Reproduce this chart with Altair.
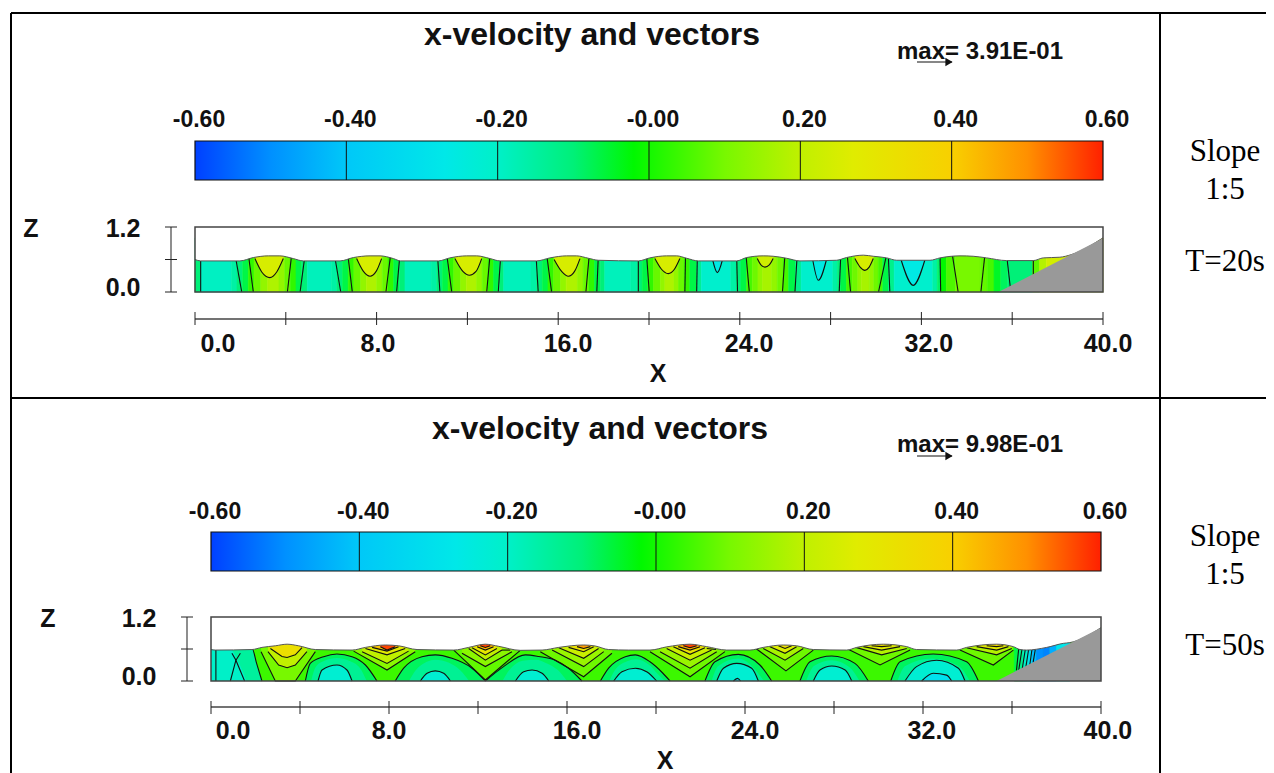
import altair as alt
import pandas as pd

# ---- colour map (velocity -> colour)
CB_VALUES = [-0.6, -0.5, -0.4, -0.27, -0.2, -0.1, -0.02, 0.1, 0.2, 0.27, 0.4, 0.5, 0.6]
CB_COLORS = ["#0040ff", "#0090ff", "#00c8f8", "#00e8e8", "#00f0c8", "#00f078", "#00f800",
             "#78f800", "#c0f000", "#e0ec00", "#f8d000", "#ff9000", "#ff2000"]
CB_TICKS = [-0.4, -0.2, 0.0, 0.2, 0.4]
CB_LABEL_VALUES = [-0.6, -0.4, -0.2, 0.0, 0.2, 0.4, 0.6]
CB_LABELS = ["-0.60", "-0.40", "-0.20", "-0.00", "0.20", "0.40", "0.60"]

X_TICKS = [0, 4, 8, 12, 16, 20, 24, 28, 32, 36, 40]
X_LABELS = ["0.0", "8.0", "16.0", "24.0", "32.0", "40.0"]
Z_TICKS = [0.0, 0.6, 1.2]
Z_LABELS = ["0.0", "1.2"]
P1_X_LABEL_POS = [1.01, 8.06, 16.43, 24.41, 32.33, 40.22]
P2_X_LABEL_POS = [0.99, 8.0, 16.45, 24.45, 32.4, 40.31]
Z_LABEL_POS = [0.07, 1.16]

# ---- panel 1 (T=20s): free surface
P1_SURF_X = [0, .25, 1.98, 2.57, 3.23, 3.74, 4.33, 4.77, 6.39, 6.98, 7.71, 8.15, 8.74, 9.06, 10.72, 11.23, 11.97, 12.41,
             13.0, 13.44, 15.05, 15.64, 16.37, 16.81, 17.33, 17.77, 19.53, 20.04, 20.77, 21.22, 21.66, 22.17, 23.86,
             24.3, 25.03, 25.47, 26.06, 26.65, 28.26, 28.7, 29.44, 29.88, 30.47, 30.91, 32.38, 32.82, 33.7, 34.28,
             34.87, 35.75, 36.93, 37.37, 38.1, 38.6, 40]
P1_SURF_Z = [.6, .574, .574, .636, .667, .667, .617, .574, .574, .636, .667, .667, .617, .574, .574, .63, .667, .667,
             .617, .574, .574, .63, .667, .667, .623, .586, .574, .63, .667, .667, .623, .574, .574,
             .636, .667, .66, .623, .574, .586, .636, .68, .66, .63, .586, .586, .63, .667, .66,
             .63, .58, .58, .63, .642, .69, 1.0]
P1_SLOPE_X = [35.39, 39.98, 40.0]
P1_SLOPE_Z = [0.0, 0.99, 0.99]

# velocity strips along x, panel 1
P1_EDGES = [0, .25, 1.6, 1.85, 2.1, 2.35, 2.6, 2.9, 3.2, 3.7, 3.95, 4.2, 4.45, 4.7, 4.95,
            6.0, 6.25, 6.5, 6.75, 7.0, 7.3, 7.55, 8.0, 8.25, 8.5, 8.75, 9.0, 9.25,
            10.4, 10.65, 10.9, 11.15, 11.4, 11.7, 11.95, 12.4, 12.65, 12.9, 13.15, 13.4, 13.6,
            14.8, 15.05, 15.3, 15.55, 15.8, 16.1, 16.35, 16.85, 17.1, 17.35, 17.6, 17.85, 18.05,
            19.2, 19.5, 19.7, 19.95, 20.2, 20.5, 20.7, 21.1, 21.3, 21.55, 21.8, 22.1, 22.3,
            23.6, 23.85, 24.05, 24.3, 24.55, 24.8, 25.0, 25.4, 25.65, 25.9, 26.15, 26.45, 26.7,
            28.1, 28.3, 28.45, 28.7, 28.95, 29.2, 29.35, 29.7, 29.9, 30.1, 30.3, 30.55, 30.8,
            32.5, 32.7, 32.85, 33.1, 33.5, 34.6, 34.9, 35.2, 35.5, 35.8, 36.9, 37.2, 37.5, 40]
P1_STRIP_V = [-.1, -.19, -.15, -.1, -.05, 0, .07, .13, .17, .13, .07, 0, -.05, -.1,
              -.18, -.15, -.1, -.05, 0, .07, .13, .17, .13, .07, 0, -.05, -.1,
              -.18, -.15, -.1, -.05, 0, .07, .13, .17, .13, .07, 0, -.05, -.1,
              -.18, -.15, -.1, -.05, 0, .07, .13, .17, .13, .07, 0, -.05, -.1,
              -.18, -.15, -.1, -.05, 0, .07, .13, .17, .13, .07, 0, -.05, -.12,
              -.21, -.15, -.1, -.05, .02, .08, .13, .16, .13, .08, .02, -.05, -.12,
              -.21, -.15, -.1, -.05, .02, .08, .13, .16, .13, .08, .02, -.05, -.12,
              -.21, -.15, -.08, -.02, .03, .1, .06, .02, -.03, -.07, -.1, .05, .18, .24]

# hanging contours (velocity, x, z)
P1_BELLS = [
    (.25, [2.64, 2.94, 3.3, 3.6, 3.89], [.617, .37, .265, .37, .617]),
    (.25, [7.12, 7.42, 7.71, 7.98, 8.22], [.617, .38, .29, .38, .617]),
    (.25, [11.45, 11.8, 12.09, 12.38, 12.63], [.617, .38, .31, .38, .617]),
    (.25, [15.82, 16.15, 16.45, 16.72, 16.96], [.6, .38, .29, .38, .617]),
    (.25, [20.26, 20.55, 20.85, 21.12, 21.36], [.617, .42, .34, .42, .617]),
    (.23, [24.77, 24.93, 25.11, 25.3, 25.47], [.617, .5, .46, .5, .617]),
    (.25, [29.07, 29.3, 29.51, 29.7, 29.88], [.617, .46, .4, .46, .617]),
    (-.26, [22.8, 23.01, 23.24], [.6, .358, .6]),
    (-.26, [27.21, 27.46, 27.82], [.6, .216, .6]),
    (-.26, [31.1, 31.64, 32.16], [.6, .123, .6]),
]
P1_LINE_TOP = [.25, 1.76, 2.35, 4.26, 4.85, 6.14, 6.73, 8.62, 9.03, 10.68, 11.09, 13.0, 13.47, 15.02, 15.49, 17.37, 17.77,
               19.53, 19.89, 21.61, 22.13, 23.86, 24.27, 25.99, 26.53, 28.45, 28.73, 30.47, 30.54, 32.82, 33.36, 34.8,
               35.75, 36.93]
P1_LINE_BOT = [.25, 2.06, 2.57, 4.07, 4.63, 6.42, 6.93, 8.41, 8.88, 10.79, 11.31, 12.85, 13.36, 15.12, 15.71, 17.22, 17.7,
               19.53, 20.01, 21.58, 22.1, 23.9, 24.42, 25.88, 26.43, 28.38, 28.88, 30.11, 30.61, 32.85, 33.62, 34.62,
               35.94, 36.93]

# ---- panel 2 (T=50s): free surface
P2_SURF_X = [0, .19, 1.84, 2.29, 2.89, 3.42, 3.94, 4.69, 6.34, 6.94, 7.84, 8.43, 9.26, 10.91, 11.58, 12.33, 12.93, 13.9,
             14.88, 15.63, 16.75, 17.27, 17.87, 18.77, 19.73, 20.48, 21.53, 22.28, 23.18, 24.22, 24.82, 25.72, 26.32,
             27.07, 28.57, 29.02, 30.22, 31.27, 31.71, 33.51, 33.96, 35.31, 36.06, 36.36, 36.66, 37.56, 38.31, 38.6, 40]
P2_SURF_Z = [.59, .58, .59, .63, .66, .69, .66, .59, .58, .63, .675, .66, .59, .58, .63, .69, .65, .575,
             .58, .63, .675, .656, .59, .58, .58, .64, .69, .644, .58, .58, .63, .675, .66,
             .59, .58, .63, .69, .644, .59, .58, .63, .69, .644, .59, .58, .63, .706, .72, 1.0]
P2_SLOPE_X = [35.31, 39.95, 40.0]
P2_SLOPE_Z = [0.0, 0.99, 0.99]

P2_CREST_A = [(.1, [2.25, 2.89, 3.79, 4.69], [.55, 0, 0, .55]),
              (.2, [2.56, 3.04, 3.42, 3.79, 4.31], [.55, .3, .25, .3, .55]),
              (.33, [2.67, 3.19, 3.42, 3.79, 4.09], [.61, .46, .44, .49, .625])]
P2_CREST_B = [(.12, [6.41, 7.91, 9.18], [.56, .206, .55]),
              (.2, [6.79, 7.91, 8.88], [.55, .33, .56]),
              (.28, [6.94, 7.91, 8.73], [.61, .49, .61]),
              (.42, [7.24, 7.91, 8.43], [.63, .56, .644]),
              (.58, [7.61, 7.91, 8.28], [.644, .58, .644])]
P2_CREST_C = [(.06, [10.91, 12.33, 13.9], [.58, .02, .575]),
              (.12, [11.28, 12.33, 13.53], [.52, .27, .55]),
              (.2, [11.58, 12.33, 13.08], [.61, .39, .58]),
              (.3, [11.73, 12.33, 12.85], [.625, .49, .61]),
              (.44, [11.96, 12.33, 12.7], [.644, .58, .644]),
              (.58, [12.1, 12.33, 12.55], [.66, .63, .66])]
P2_CREST_D = [(.08, [14.8, 16.75, 18.02], [.55, .08, .52]),
              (.14, [15.33, 16.75, 17.65], [.58, .27, .55]),
              (.22, [15.63, 16.75, 17.42], [.625, .425, .61]),
              (.32, [16.07, 16.75, 17.2], [.63, .55, .644]),
              (.48, [16.45, 16.75, 17.05], [.644, .61, .644])]
P2_CREST_E = [(.08, [19.73, 21.53, 23.1], [.55, .08, .55]),
              (.14, [20.18, 21.53, 22.73], [.55, .24, .55]),
              (.22, [20.48, 21.53, 22.5], [.61, .39, .58]),
              (.32, [20.78, 21.53, 22.2], [.644, .5, .625]),
              (.45, [21.0, 21.53, 21.98], [.644, .58, .644]),
              (.58, [21.23, 21.53, 21.83], [.66, .625, .66])]
P2_CREST_F = [(.08, [24.49, 25.84, 27.07], [.61, .19, .58]),
              (.16, [24.82, 25.8, 26.62], [.61, .39, .61]),
              (.26, [25.12, 25.8, 26.32], [.644, .52, .644]),
              (.33, [25.5, 25.8, 26.1], [.66, .61, .66])]
P2_CREST_G = [(.08, [28.57, 30.07, 31.42], [.61, .3, .58]),
              (.18, [28.87, 30.14, 31.27], [.644, .49, .61]),
              (.27, [29.32, 30.14, 30.97], [.644, .58, .644]),
              (.34, [29.69, 30.14, 30.59], [.66, .644, .66])]
P2_CREST_H = [(.08, [33.66, 35.16, 36.06], [.58, .3, .58]),
              (.18, [33.96, 35.31, 35.99], [.625, .49, .61]),
              (.28, [34.41, 35.31, 35.84], [.644, .58, .644]),
              (.36, [34.86, 35.31, 35.61], [.66, .644, .66])]

# domes rising from the bed: (velocity, has contour line, x, z)
P2_DOME_LEFT = [(-.14, True, [0, 1.84, 2.05, 2.29], [.62, .62, .33, 0]),
                (-.2, False, [0, .8, 1.3, 1.6], [.62, .62, .3, 0])]
P2_DOME_B = [(-.07, True, [4.24, 4.46, 5.06, 5.66, 6.34, 6.94, 7.46], [0, .33, .456, .506, .456, .3, 0]),
             (-.13, False, [4.5, 4.7, 5.1, 5.66, 6.2, 6.7, 7.0], [0, .26, .38, .43, .38, .24, 0]),
             (-.22, True, [4.81, 4.99, 5.66, 6.11, 6.34], [0, .206, .3, .206, 0])]
P2_DOME_C = [(-.07, True, [8.28, 8.66, 9.48, 10.08, 10.83, 11.73, 12.33], [0, .24, .456, .49, .425, .24, 0]),
             (-.13, False, [8.9, 9.2, 9.7, 10.08, 10.7, 11.2, 11.6], [0, .2, .36, .4, .34, .2, 0]),
             (-.22, True, [9.41, 9.71, 10.08, 10.46, 10.76], [0, .144, .19, .144, 0])]
P2_DOME_D = [(-.07, True, [12.33, 13.15, 14.13, 14.73, 15.48, 16.07, 16.67], [0, .27, .49, .46, .39, .24, 0]),
             (-.13, False, [13.1, 13.4, 14.0, 14.6, 15.1, 15.6, 16.0], [0, .2, .38, .4, .33, .2, 0]),
             (-.22, True, [13.68, 14.05, 14.43, 14.88, 15.18], [0, .175, .206, .144, 0])]
P2_DOME_E = [(-.07, True, [17.5, 17.87, 18.62, 19.07, 19.73, 20.3, 20.63], [0, .24, .456, .49, .36, .15, 0]),
             (-.13, False, [17.9, 18.15, 18.7, 19.1, 19.7, 20.1, 20.4], [0, .2, .37, .41, .3, .12, 0]),
             (-.22, True, [18.1, 18.47, 19.07, 19.6, 20.03], [0, .175, .24, .17, 0])]
P2_DOME_F = [(-.07, True, [22.2, 22.65, 23.7, 24.67, 25.2], [0, .36, .5, .3, 0]),
             (-.13, False, [22.5, 22.8, 23.7, 24.4, 24.85], [0, .28, .42, .24, 0]),
             (-.22, True, [22.73, 23.03, 23.63, 24.3, 24.6], [0, .24, .33, .24, 0]),
             (-.3, True, [23.48, 23.66, 23.8], [0, .05, 0])]
P2_DOME_G = [(-.07, True, [26.47, 26.92, 27.9, 28.94, 29.54], [0, .36, .47, .33, 0]),
             (-.13, False, [26.75, 27.1, 27.9, 28.7, 29.15], [0, .28, .39, .26, 0]),
             (-.22, True, [27.07, 27.37, 27.9, 28.5, 28.8], [0, .206, .28, .206, 0])]
P2_DOME_H = [(-.07, True, [30.55, 30.97, 32.46, 33.96, 34.49], [0, .36, .506, .36, 0]),
             (-.13, False, [30.85, 31.2, 32.4, 33.6, 34.1], [0, .28, .42, .28, 0]),
             (-.22, True, [31.19, 31.71, 32.61, 33.59, 33.89], [0, .27, .39, .24, 0]),
             (-.3, True, [31.94, 32.46, 33.06, 33.29], [0, .144, .11, 0])]

P2_SWASH_EDGES = [36.1, 36.3, 36.5, 36.7, 36.9, 37.1, 37.4, 37.7, 38.0, 38.6]
P2_SWASH_V = [-.05, -.12, -.2, -.3, -.42, -.5, -.52, -.45, -.28]
# free contour pieces (x list, z list)
P2_FREE_LINES = [([.22, .22], [.6, 0]),
                 ([.87, 1.12, .94], [0, .39, .52]),
                 ([1.51, 1.12, 1.32], [0, .39, .52]),
                 ([36.3, 36.2], [.6, .2]), ([36.45, 36.3], [.6, .2]), ([36.6, 36.45], [.6, .2]),
                 ([36.75, 36.6], [.6, .2]), ([36.9, 36.8], [.6, .3]), ([37.05, 36.95], [.6, .35]),
                 ([22.28, 22.7], [.61, .59]), ([13.08, 13.45], [.58, .58])]

# ---- layout of the two panels
P1 = dict(x=[187, 1095], z=[284, 219], cb=(133, 172), cby=112, axy=311, ticks=(304, 317), laby=336, zx=163, zlab=115,
          Zx=23, Zy=221, Xx=650, Xy=366, title=(584, 27), maxt=(972, 44), arrow=(909, 944, 54), tag="3.91E-01")
P2 = dict(x=[203, 1093], z=[673, 609], cb=(524, 563), cby=504, axy=699, ticks=(693, 706), laby=723, zx=179, zlab=131,
          Zx=40, Zy=611, Xx=657, Xy=753, title=(592, 421), maxt=(972, 437), arrow=(909, 944, 448), tag="9.98E-01")

COLOR = alt.Scale(domain=CB_VALUES, range=CB_COLORS)
GRAD = alt.LinearGradient(gradient="linear", x1=0, x2=1, y1=0, y2=0,
                          stops=[alt.GradientStop(color=c, offset=(v + .6) / 1.2) for v, c in zip(CB_VALUES, CB_COLORS)])
BOLD = "Liberation Sans"


def X(p, field="x"):
    return alt.X(f"{field}:Q", scale=alt.Scale(domain=[0, 40], range=p["x"], nice=False, zero=False), axis=None)


def Z(p, field="z"):
    return alt.Y(f"{field}:Q", scale=alt.Scale(domain=[0, 1.2], range=p["z"], nice=False, zero=False), axis=None)


def CBX(p, field="c"):
    return alt.X(f"{field}:Q", scale=alt.Scale(domain=[-.6, .6], range=p["x"], nice=False, zero=False), axis=None)


def V():
    return alt.Color("v:Q", scale=COLOR, legend=None)


def regions(items, start=0):
    """items: (velocity, line?, xs, zs, kind); kind crest -> filled above curve, dome -> filled below."""
    rows = []
    for k, (v, line, xs, zs, kind) in enumerate(items):
        for i, (a, b) in enumerate(zip(xs, zs)):
            lo, hi = (b, 1.0) if kind == "crest" else (0.0, b)
            rows.append(dict(id=k + start, i=i, v=v, x=a, z=b, lo=lo, hi=hi, line=line))
    return pd.DataFrame(rows)


def free(lines):
    rows = []
    for k, (xs, zs) in enumerate(lines):
        for i, (a, b) in enumerate(zip(xs, zs)):
            rows.append(dict(id=k, i=i, x=a, z=b))
    return pd.DataFrame(rows)


def panel_common(p, surf_x, surf_z, slope_x, slope_z, x_label_pos):
    """Everything drawn on top of the field, plus axes, colour bar and texts."""
    out = []
    surf = pd.DataFrame(dict(x=surf_x, z=surf_z, top=[1.2] * len(surf_x)))
    out.append(alt.Chart(surf).mark_area(color="white", interpolate="monotone").encode(
        x=X(p), y=Z(p), y2=alt.Y2("top:Q")))
    out.append(alt.Chart(surf).mark_line(color="#555555", strokeWidth=1, interpolate="monotone").encode(
        x=X(p), y=Z(p)))
    sl = pd.DataFrame(dict(x=slope_x, z=slope_z, b=[0.0] * len(slope_x)))
    out.append(alt.Chart(sl).mark_area(color="#999999").encode(x=X(p), y=Z(p), y2=alt.Y2("b:Q")))
    box = pd.DataFrame(dict(x=[0], x2=[40], z=[0.0], z2=[1.2]))
    out.append(alt.Chart(box).mark_rect(filled=False, stroke="#444444", strokeWidth=1.5).encode(
        x=X(p), x2=alt.X2("x2:Q"), y=Z(p), y2=alt.Y2("z2:Q")))
    # x axis
    ax = pd.DataFrame(dict(x=[0], x2=[40]))
    out.append(alt.Chart(ax).mark_rule(color="#444444", strokeWidth=1.5).encode(
        x=X(p), x2=alt.X2("x2:Q"), y=alt.value(p["axy"])))
    tk = pd.DataFrame(dict(x=X_TICKS))
    out.append(alt.Chart(tk).mark_rule(color="#222222", strokeWidth=1).encode(
        x=X(p), y=alt.value(p["ticks"][0]), y2=alt.value(p["ticks"][1])))
    lb = pd.DataFrame(dict(x=x_label_pos, t=X_LABELS))
    out.append(alt.Chart(lb).mark_text(font=BOLD, fontWeight="bold", fontSize=25, color="#111111").encode(
        x=X(p), y=alt.value(p["laby"]), text="t:N"))
    # z axis
    zr = pd.DataFrame(dict(z=[0.0], z2=[1.2]))
    out.append(alt.Chart(zr).mark_rule(color="#444444", strokeWidth=1.2).encode(
        x=alt.value(p["zx"]), y=Z(p), y2=alt.Y2("z2:Q")))
    zt = pd.DataFrame(dict(z=Z_TICKS))
    out.append(alt.Chart(zt).mark_rule(color="#222222", strokeWidth=1).encode(
        x=alt.value(p["zx"] - 6), x2=alt.value(p["zx"] + 6), y=Z(p)))
    zl = pd.DataFrame(dict(z=Z_LABEL_POS, t=Z_LABELS))
    out.append(alt.Chart(zl).mark_text(font=BOLD, fontWeight="bold", fontSize=25, color="#111111").encode(
        x=alt.value(p["zlab"]), y=Z(p), text="t:N"))
    # colour bar
    cb = pd.DataFrame(dict(c=[-.6], c2=[.6]))
    out.append(alt.Chart(cb).mark_rect(fill=GRAD, stroke="#111111", strokeWidth=1.2).encode(
        x=CBX(p), x2=alt.X2("c2:Q"), y=alt.value(p["cb"][0]), y2=alt.value(p["cb"][1])))
    ct = pd.DataFrame(dict(c=CB_TICKS))
    out.append(alt.Chart(ct).mark_rule(color="#111111", strokeWidth=1).encode(
        x=CBX(p), y=alt.value(p["cb"][0]), y2=alt.value(p["cb"][1])))
    cl = pd.DataFrame(dict(c=CB_LABEL_VALUES, t=CB_LABELS))
    out.append(alt.Chart(cl).mark_text(font=BOLD, fontWeight="bold", fontSize=23, dx=4, color="#111111").encode(
        x=CBX(p), y=alt.value(p["cby"]), text="t:N"))
    # texts
    txt = pd.DataFrame([
        dict(t="x-velocity and vectors", a=p["title"][0], b=p["title"][1], s=32),
        dict(t="max= " + p["tag"], a=p["maxt"][0], b=p["maxt"][1], s=24),
        dict(t="Z", a=p["Zx"], b=p["Zy"], s=25),
        dict(t="X", a=p["Xx"], b=p["Xy"], s=25),
    ])
    for _, r in txt.iterrows():
        out.append(alt.Chart(pd.DataFrame([dict(t=r.t)])).mark_text(
            font=BOLD, fontWeight="bold", fontSize=int(r.s), color="#111111").encode(
            x=alt.value(int(r.a)), y=alt.value(int(r.b)), text="t:N"))
    # reference vector
    a0, a1, ay = p["arrow"]
    out.append(alt.Chart(pd.DataFrame(dict(k=[1]))).mark_rule(color="#111111", strokeWidth=1.2).encode(
        x=alt.value(a0), x2=alt.value(a1), y=alt.value(ay)))
    out.append(alt.Chart(pd.DataFrame(dict(k=[1]))).mark_point(
        shape="triangle-right", filled=True, size=70, color="#111111", opacity=1).encode(
        x=alt.value(a1 - 3), y=alt.value(ay)))
    return out


layers = []

# ---------- panel 1 field
strips = pd.DataFrame(dict(x=P1_EDGES[:-1], x2=P1_EDGES[1:], v=P1_STRIP_V,
                           z=[0.0] * len(P1_STRIP_V), z2=[1.0] * len(P1_STRIP_V)))
layers.append(alt.Chart(strips).mark_rect(strokeWidth=0.6).encode(
    x=X(P1), x2=alt.X2("x2:Q"), y=Z(P1), y2=alt.Y2("z2:Q"), color=V(), stroke=alt.Stroke("v:Q", scale=COLOR, legend=None)))
bells = regions([(v, True, xs, zs, "crest") for v, xs, zs in P1_BELLS])
layers.append(alt.Chart(bells).mark_area(interpolate="monotone").encode(
    x=X(P1), y=Z(P1, "lo"), y2=alt.Y2("hi:Q"), detail="id:N", color=V()))
layers.append(alt.Chart(bells).mark_line(color="#111111", strokeWidth=1.1, interpolate="monotone").encode(
    x=X(P1), y=Z(P1), detail="id:N"))
p1_lines = free([([a, b], [.7, 0.0]) for a, b in zip(P1_LINE_TOP, P1_LINE_BOT)])
layers.append(alt.Chart(p1_lines).mark_line(color="#111111", strokeWidth=1.1).encode(
    x=X(P1), y=Z(P1), detail="id:N", order="i:Q"))
layers += panel_common(P1, P1_SURF_X, P1_SURF_Z, P1_SLOPE_X, P1_SLOPE_Z, P1_X_LABEL_POS)

# ---------- panel 2 field
base = pd.DataFrame(dict(x=[0], x2=[40], z=[0.0], z2=[1.0], v=[.01]))
layers.append(alt.Chart(base).mark_rect().encode(
    x=X(P2), x2=alt.X2("x2:Q"), y=Z(P2), y2=alt.Y2("z2:Q"), color=V()))
swash = pd.DataFrame(dict(x=P2_SWASH_EDGES[:-1], x2=P2_SWASH_EDGES[1:], v=P2_SWASH_V,
                          z=[0.0] * len(P2_SWASH_V), z2=[1.0] * len(P2_SWASH_V)))
crest_items = []
for crest in [P2_CREST_A, P2_CREST_B, P2_CREST_C, P2_CREST_D, P2_CREST_E, P2_CREST_F, P2_CREST_G, P2_CREST_H]:
    crest_items += [(v, True, xs, zs, "crest") for v, xs, zs in crest]
dome_items = []
for dome in [P2_DOME_LEFT, P2_DOME_B, P2_DOME_C, P2_DOME_D, P2_DOME_E, P2_DOME_F, P2_DOME_G, P2_DOME_H]:
    dome_items += [(v, ln, xs, zs, "dome") for v, ln, xs, zs in dome]
crests = regions(crest_items)
domes = regions(dome_items)
layers.append(alt.Chart(crests).mark_area().encode(
    x=X(P2), y=Z(P2, "lo"), y2=alt.Y2("hi:Q"), detail="id:N", color=V()))
layers.append(alt.Chart(domes).mark_area(interpolate="monotone").encode(
    x=X(P2), y=Z(P2, "lo"), y2=alt.Y2("hi:Q"), detail="id:N", color=V()))
layers.append(alt.Chart(swash).mark_rect(strokeWidth=0.6).encode(
    x=X(P2), x2=alt.X2("x2:Q"), y=Z(P2), y2=alt.Y2("z2:Q"), color=V(),
    stroke=alt.Stroke("v:Q", scale=COLOR, legend=None)))
layers.append(alt.Chart(crests).mark_line(color="#111111", strokeWidth=1.1).encode(
    x=X(P2), y=Z(P2), detail="id:N"))
layers.append(alt.Chart(domes[domes.line]).mark_line(color="#111111", strokeWidth=1.1, interpolate="monotone").encode(
    x=X(P2), y=Z(P2), detail="id:N"))
layers.append(alt.Chart(free(P2_FREE_LINES)).mark_line(color="#111111", strokeWidth=1.1).encode(
    x=X(P2), y=Z(P2), detail="id:N", order="i:Q"))
layers += panel_common(P2, P2_SURF_X, P2_SURF_Z, P2_SLOPE_X, P2_SLOPE_Z, P2_X_LABEL_POS)

# ---------- table cell rules and side labels
H_RULES = [5, 390]
V_RULES = [3, 1152]
for py in H_RULES:
    layers.append(alt.Chart(pd.DataFrame(dict(k=[py]))).mark_rule(color="#000000", strokeWidth=2).encode(
        x=alt.value(3), x2=alt.value(1258), y=alt.value(py)))
for px in V_RULES:
    layers.append(alt.Chart(pd.DataFrame(dict(k=[px]))).mark_rule(color="#000000", strokeWidth=2).encode(
        x=alt.value(px), y=alt.value(5), y2=alt.value(765)))
SIDE = [("Slope", 144), ("1:5", 182), ("T=20s", 254), ("Slope", 529), ("1:5", 567), ("T=50s", 638)]
for t, py in SIDE:
    layers.append(alt.Chart(pd.DataFrame(dict(t=[t]))).mark_text(
        font="Liberation Serif", fontSize=31, color="#000000").encode(
        x=alt.value(1217), y=alt.value(py), text="t:N"))

chart = alt.layer(*layers).resolve_scale(x="independent", y="independent").properties(
    width=1258, height=765, padding=0, autosize=alt.AutoSizeParams(type="none"),
    background="white").configure_view(stroke=None)

chart.save("out.html", embed_options={"renderer": "svg", "actions": False})
